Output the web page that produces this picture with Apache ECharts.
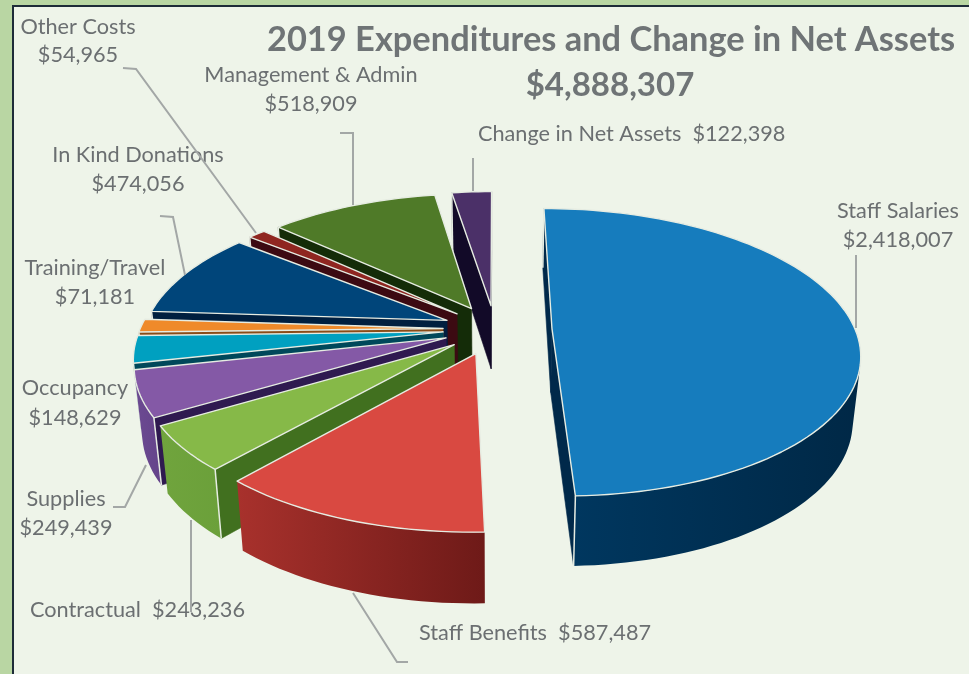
<!DOCTYPE html>
<html>
<head>
<meta charset="utf-8">
<style>
  html, body { margin: 0; padding: 0; background: #b9d6a3; }
  #main { width: 969px; height: 674px; }
</style>
</head>
<body>
<div id="main"></div>
<script src="https://cdn.jsdelivr.net/npm/echarts@6/dist/echarts.min.js"></script>
<script>
var names = ['Staff Salaries', 'Staff Benefits', 'Contractual', 'Supplies', 'Occupancy',
  'Training/Travel', 'In Kind Donations', 'Other Costs', 'Management & Admin', 'Change in Net Assets'];
var values = [2418007, 587487, 243236, 249439, 148629, 71181, 474056, 54965, 518909, 122398];

// look of each slice, same order as names
var topColors = ['#167cbd', '#d94941', '#86b948', '#8459a6', '#00a0c0', '#ef8a2a', '#00457a', '#8f2620', '#4f7a28', '#4b3068'];
var rimLeft = ['#00375f', '#a8312c', '#70a43d', '#6c4a92', '#008aa6', '#c06c20', '#003560', '#701c18', '#3b5e1c', '#38244f'];
var rimRight = ['#002846', '#6e1a18', '#6ba03a', '#64438a', '#007f99', '#b0621c', '#002c50', '#60160f', '#33521a', '#30203f'];
var sideColors = ['#00294a', '#5c1512', '#41701f', '#2f1a50', '#00485a', '#8a4c18', '#001f3f', '#3c0a12', '#142c08', '#120a28'];
var explode = [57, 55, 52, 52, 52, 52, 52, 51, 51, 52];

// fake 3d pie, camera numbers fitted by eye
var cx = 495, cy = 329, radius = 303, tilt = 0.462, persp = 0.165, depth = 64, shrink = 0.022;

var total = values.reduce(function (a, b) { return a + b; }, 0);
var starts = [];
var run = 0;
values.forEach(function (v) { starts.push(run / total * Math.PI * 2); run += v; });

function money(v) {
  return '$' + String(v).replace(/\B(?=(\d{3})+$)/g, ',');
}

// u to the right, v towards the viewer, z down
function project(u, v, z) {
  var s = 1 / (1 - persp * v / radius);
  return [cx + u * s * (1 - shrink * z), cy + v * tilt * s + z * depth * Math.sqrt(s)];
}

function area(p) {
  var sum = 0;
  for (var i = 0; i < p.length; i++) {
    var q = p[(i + 1) % p.length];
    sum += p[i][0] * q[1] - q[0] * p[i][1];
  }
  return sum / 2;
}

function renderSlice(params, api) {
  var i = api.value(0);
  var a0 = starts[i];
  var a1 = a0 + api.value(1) / total * Math.PI * 2;
  var mid = (a0 + a1) / 2;
  var du = Math.sin(mid) * explode[i];
  var dv = -Math.cos(mid) * explode[i];
  var steps = Math.max(2, Math.ceil((a1 - a0) / 0.03));
  var arc = [];
  for (var k = 0; k <= steps; k++) {
    var a = a0 + (a1 - a0) * k / steps;
    arc.push([du + radius * Math.sin(a), dv - radius * Math.cos(a)]);
  }
  var apex = [du, dv];
  var rank = Math.round((dv / explode[i] + 1) * 100) * 100;
  var children = [];

  function quad(p, q) {
    return [project(p[0], p[1], 0), project(q[0], q[1], 0), project(q[0], q[1], 1), project(p[0], p[1], 1)];
  }
  function side(p, q) {
    var pts = quad(p, q);
    if (area(pts) >= 0) return false;
    children.push({
      type: 'polygon', z2: rank + 1, shape: { points: pts },
      style: { fill: sideColors[i], stroke: sideColors[i], lineWidth: 0.6 }
    });
    var o = p === apex ? q : p;
    var t = project(o[0], o[1], 0), b = project(o[0], o[1], 1);
    children.push({
      type: 'line', z2: rank + 90,
      shape: { x1: t[0], y1: t[1], x2: b[0], y2: b[1] },
      style: { stroke: '#e6ece2', lineWidth: 1.5 }
    });
    return true;
  }

  side(apex, arc[0]);
  side(arc[steps], apex);

  // outer wall: the facing part of the arc as one polygon
  var topEdge = [], botEdge = [];
  for (k = 0; k < steps; k++) {
    var pts = quad(arc[k], arc[k + 1]);
    if (area(pts) < 0) {
      if (!topEdge.length) { topEdge.push(pts[0]); botEdge.push(pts[3]); }
      topEdge.push(pts[1]);
      botEdge.push(pts[2]);
    }
  }
  if (topEdge.length) {
    var outline = topEdge.concat(botEdge.slice().reverse());
    var xs = outline.map(function (p) { return p[0]; });
    children.push({
      type: 'polygon', z2: rank + 2, shape: { points: outline },
      style: {
        fill: new echarts.graphic.LinearGradient(Math.min.apply(null, xs), 0, Math.max.apply(null, xs), 0,
          [{ offset: 0, color: rimLeft[i] }, { offset: 1, color: rimRight[i] }], true)
      }
    });
  }

  var topPts = [project(apex[0], apex[1], 0)].concat(arc.map(function (p) { return project(p[0], p[1], 0); }));
  children.push({
    type: 'polygon', z2: rank + 95, shape: { points: topPts },
    style: { fill: topColors[i], stroke: '#e6ece2', lineWidth: 1.4, lineJoin: 'round' }
  });
  return { type: 'group', children: children };
}

function label(text, x, y, align) {
  return {
    type: 'text', x: x, y: y, z: 20,
    style: { text: text, fill: '#6b6f71', font: '21.7px Lato', textAlign: align || 'center', textVerticalAlign: 'middle' }
  };
}
function leader(points) {
  return {
    type: 'polyline', z: 30, shape: { points: points },
    style: { stroke: '#a3a7a6', lineWidth: 2, fill: null }
  };
}

var chart = echarts.init(document.getElementById('main'), null, { renderer: 'canvas' });
chart.setOption({
  animation: false,
  backgroundColor: '#b9d6a3',
  title: [
    {
      text: '2019 Expenditures and Change in Net Assets', left: 606, top: 17, textAlign: 'center',
      textStyle: { color: '#6f7476', fontFamily: 'Lato', fontWeight: 'bold', fontSize: 34.4, lineHeight: 36 }
    },
    {
      text: money(total), left: 605, top: 62, textAlign: 'center',
      textStyle: { color: '#6f7476', fontFamily: 'Lato', fontWeight: 'bold', fontSize: 33, lineHeight: 36 }
    }
  ],
  graphic: [
    { type: 'rect', z: -10, shape: { x: 13, y: 6, width: 956, height: 668 }, style: { fill: '#eef4e9' } },
    { type: 'polyline', z: -9, shape: { points: [[13, 674], [13, 6], [969, 6]] }, style: { stroke: '#1d2b38', lineWidth: 2, fill: null } },
    label(names[7], 78, 27), label(money(values[7]), 78, 55),
    label(names[8], 311, 75), label(money(values[8]), 311, 104),
    label(names[6], 138, 155), label(money(values[6]), 138, 184),
    label(names[5], 95, 268), label(money(values[5]), 95, 297),
    label(names[4], 75, 388), label(money(values[4]), 75, 418),
    label(names[3], 66, 499), label(money(values[3]), 66, 528),
    label(names[2] + '  ' + money(values[2]), 30, 610, 'left'),
    label(names[1] + '  ' + money(values[1]), 419, 633, 'left'),
    label(names[9] + '  ' + money(values[9]), 478, 134, 'left'),
    label(names[0], 898, 211), label(money(values[0]), 898, 240),
    leader([[123, 68], [136, 69], [256, 233]]),
    leader([[340, 133], [353, 133], [353, 205]]),
    leader([[473, 158], [473, 191]]),
    leader([[160, 216], [173, 217], [185, 275]]),
    leader([[856, 255], [856, 328]]),
    leader([[113, 507], [125, 507], [146, 465]]),
    leader([[191, 520], [191, 612]]),
    leader([[353, 593], [397, 662], [408, 662]])
  ],
  series: [{
    type: 'custom',
    coordinateSystem: 'none',
    silent: true,
    renderItem: renderSlice,
    data: values.map(function (v, i) { return [i, v]; })
  }]
});
</script>
</body>
</html>
